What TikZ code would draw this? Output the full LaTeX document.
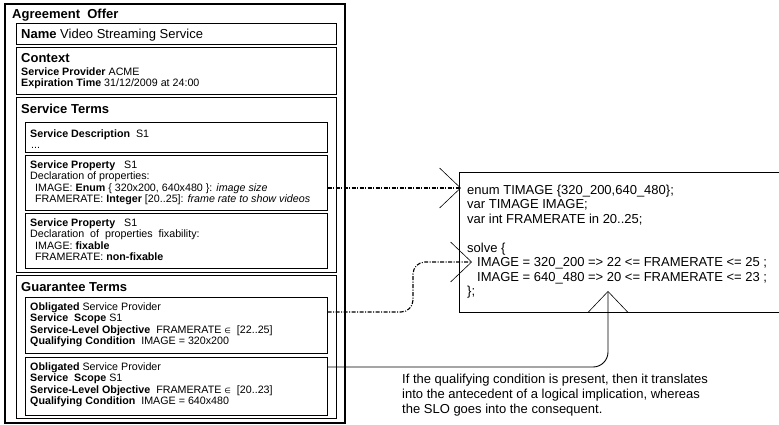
\documentclass[tikz,border=0pt]{standalone}
\usepackage{fontspec}
\setmainfont{Liberation Sans}
\newfontfamily\symfont{DejaVu Sans}
\usetikzlibrary{arrows.meta}
\newcommand\bigfnt{\fontsize{13}{15}\selectfont}
\newcommand\smallfnt{\fontsize{10.7}{11.5}\selectfont}
\newcommand\codefnt{\fontsize{13}{14.5}\selectfont}
\newcommand\elem{{\symfont\fontsize{7.5}{8}\selectfont ∈}}

\begin{document}
\begin{tikzpicture}[x=1pt,y=-1pt,
    box/.style={draw, line width=0.7pt, anchor=north west, inner sep=0pt},
    title/.style={anchor=base west, inner sep=0pt, font=\bigfnt},
    lines/.style={anchor=north west, inner sep=0pt, align=left, font=\smallfnt},
    link/.style={line width=0.9pt, -{Straight Barb[length=21pt,width=40pt,line width=0.6pt]}},
    dlink/.style={link, line width=1.1pt, dash pattern=on 4pt off 1.5pt on 1pt off 1.5pt}]
    %%%%% START %%%%%
    \useasboundingbox (0,0) rectangle (779,424);

    % agreement offer
    \node[box, line width=2pt, minimum width=340pt, minimum height=419pt] (agree) at (4,3) {};
    \node[title] (agreeT) at (12,18) {\textbf{Agreement~ Offer}};

    \node[box, minimum width=320pt, minimum height=21pt] (name) at (16,23) {};
    \node[title] (nameT) at (21,38) {\textbf{Name} Video Streaming Service};

    \node[box, minimum width=320pt, minimum height=47pt] (ctx) at (16,47) {};
    \node[title] (ctxT) at (21,62) {\textbf{Context}};
    \node[lines] (ctxL) at (21,67.2) {\textbf{Service Provider} ACME\\
      \textbf{Expiration Time} 31/12/2009 at 24:00};

    % service terms
    \node[box, minimum width=320pt, minimum height=175pt] (st) at (16,97) {};
    \node[title] (stT) at (21,113) {\textbf{Service Terms}};

    \node[box, minimum width=302pt, minimum height=30pt] (sd) at (25,122) {};
    \node[lines] (sdL) at (30,129.2) {\textbf{Service Description}~~S1\\ \hspace*{1pt}...};

    \node[box, minimum width=302pt, minimum height=55pt] (sp1) at (25,155) {};
    \node[lines] (sp1L) at (30,160.2) {\textbf{Service Property}~~~S1\\
      Declaration of properties:\\
      \hspace*{5pt}IMAGE: \textbf{Enum} \{ 320x200, 640x480 \}: \textit{image size}\\
      \hspace*{5pt}FRAMERATE: \textbf{Integer} [20..25]: \textit{frame rate to show videos}};

    \node[box, minimum width=302pt, minimum height=55pt] (sp2) at (25,213) {};
    \node[lines] (sp2L) at (30,218.2) {\textbf{Service Property}~~~S1\\
      Declaration~ of~ properties~ fixability:\\
      \hspace*{5pt}IMAGE: \textbf{fixable}\\
      \hspace*{5pt}FRAMERATE: \textbf{non-fixable}};

    % guarantee terms
    \node[box, minimum width=320pt, minimum height=143pt] (gt) at (16,275) {};
    \node[title] (gtT) at (21,291) {\textbf{Guarantee Terms}};

    \node[box, minimum width=302pt, minimum height=56pt] (ob1) at (25,297) {};
    \node[lines] (ob1L) at (30,302.2) {\textbf{Obligated} Service Provider\\
      \textbf{Service~ Scope} S1\\
      \textbf{Service-Level Objective}~~FRAMERATE \elem~~[22..25]\\
      \textbf{Qualifying Condition}~~IMAGE = 320x200};

    \node[box, minimum width=302pt, minimum height=58pt] (ob2) at (25,357) {};
    \node[lines] (ob2L) at (30,362.2) {\textbf{Obligated} Service Provider\\
      \textbf{Service~ Scope} S1\\
      \textbf{Service-Level Objective}~~FRAMERATE \elem~~[20..23]\\
      \textbf{Qualifying Condition}~~IMAGE = 640x480};

    % csp model
    \node[box, minimum width=322pt, minimum height=140pt] (csp) at (459,172) {};
    \node[lines, font=\codefnt] (cspL) at (467,184.5) {enum TIMAGE \{320\_200,640\_480\};\\
      var TIMAGE IMAGE;\\
      var int FRAMERATE in 20..25;\\[14.5pt]
      solve \{\\
      \hspace*{10pt}IMAGE = 320\_200 => 22 <= FRAMERATE <= 25 ;\\
      \hspace*{10pt}IMAGE = 640\_480 => 20 <= FRAMERATE <= 23 ;\\
      \};};

    \node[lines, font=\fontsize{13}{15}\selectfont] (note) at (402,373.5) {If the qualifying condition is present, then it translates\\
      into the antecedent of a logical implication, whereas\\
      the SLO goes into the consequent.};

    % mappings
    \coordinate (tip1) at (461,188);
    \coordinate (tip2) at (472,262);
    \coordinate (tip3) at (608,291);
    \draw[dlink] (sp1.east |- tip1) -- (tip1);
    \draw[dlink, rounded corners=12pt] (ob1.east |- 0,312) -- (413,312) |- (tip2);
    \draw[link, rounded corners=15pt] (ob2.east |- 0,367) -| (tip3);

    %%%%% END %%%%%
\end{tikzpicture}
\end{document}
